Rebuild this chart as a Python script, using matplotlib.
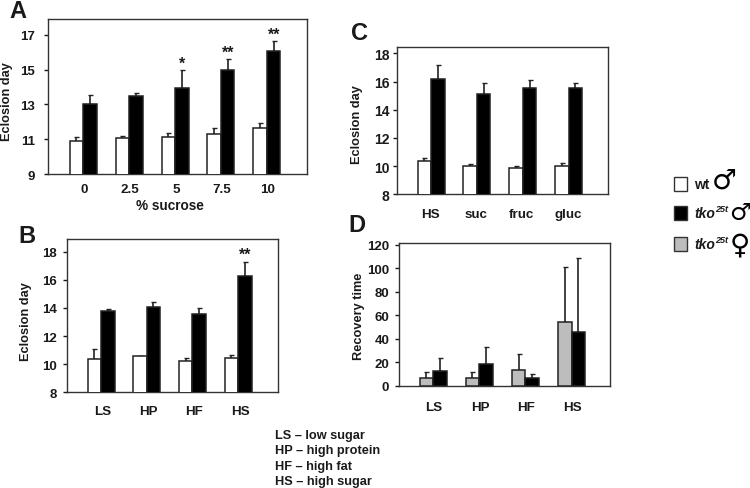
import matplotlib
matplotlib.use("Agg")
import matplotlib.pyplot as plt
from matplotlib.patches import Rectangle
import numpy as np

plt.rcParams['font.family'] = ['Liberation Sans', 'DejaVu Sans']
plt.rcParams['font.weight'] = 'bold'

W, H = 750, 489
DARK = '#1a1a1a'

a_labels = ['0', '2.5', '5', '7.5', '10']
a_wt = [10.9, 11.05, 11.1, 11.3, 11.65]
a_wt_top = [11.15, 11.2, 11.35, 11.65, 11.95]
a_tko = [13.0, 13.5, 13.95, 14.95, 16.05]
a_tko_top = [13.55, 13.65, 14.95, 15.6, 16.65]
a_stars = ['', '', '*', '**', '**']

b_labels = ['LS', 'HP', 'HF', 'HS']
b_wt = [10.35, 10.55, 10.2, 10.45]
b_wt_top = [11.1, 10.6, 10.45, 10.65]
b_tko = [13.75, 14.1, 13.55, 16.3]
b_tko_top = [13.9, 14.45, 14.0, 17.3]
b_stars = ['', '', '', '**']

c_labels = ['HS', 'suc', 'fruc', 'gluc']
c_wt = [10.35, 10.0, 9.9, 10.0]
c_wt_top = [10.55, 10.15, 10.0, 10.25]
c_tko = [16.2, 15.1, 15.55, 15.55]
c_tko_top = [17.2, 15.9, 16.1, 15.9]

d_labels = ['LS', 'HP', 'HF', 'HS']
d_fem = [6.5, 6.5, 14, 54.5]
d_fem_top = [12, 12, 27, 101]
d_tko = [13, 18.5, 6.5, 46]
d_tko_top = [24, 33, 10, 109]

notes = ['LS – low sugar', 'HP – high protein', 'HF – high fat', 'HS – high sugar']

fig = plt.figure(figsize=(7.5, 4.89), dpi=100)


def px(x, y, s, **kw):
    kw.setdefault('color', DARK)
    return fig.text(x / W, 1 - y / H, s, **kw)


def panel(box, ylim, yticks, first_center, spacing, labels, left, left_top, right, right_top,
          left_color, stars=None, label_y=0, ylabel='Eclosion day', ylabel_pos=(0, 0),
          letter='', letter_pos=(0, 0), xlabel_dx=0, pad=4, tick_size=9.5):
    l, t, r, b = box
    ax = fig.add_axes([l / W, 1 - b / H, (r - l) / W, (b - t) / H])
    x = np.arange(len(labels))
    ax.set_xlim((l - first_center) / spacing, (r - first_center) / spacing)
    ax.set_ylim(*ylim)
    w = 13.5 / spacing
    for xs, vals, tops, col in [(x - w / 2, left, left_top, left_color),
                                (x + w / 2, right, right_top, 'black')]:
        vals = np.array(vals, float)
        tops = np.array(tops, float)
        ax.bar(xs, vals, width=w, color=col, edgecolor='#222222', linewidth=1.1, zorder=3)
        ax.errorbar(xs, vals, yerr=[np.zeros_like(vals), tops - vals], fmt='none',
                    ecolor='#222222', elinewidth=1.2, capsize=1.8, capthick=1.0, zorder=2)
    ax.set_yticks(yticks)
    ax.tick_params(axis='y', length=3, width=1, pad=pad, labelsize=tick_size,
                   color=DARK, labelcolor=DARK)
    ax.set_xticks(x)
    ax.set_xticklabels([])
    ax.tick_params(axis='x', length=0)
    for s in ax.spines.values():
        s.set_linewidth(1.0)
        s.set_color('#333333')
    for i, lab in enumerate(labels):
        px(first_center + spacing * i + xlabel_dx, label_y, lab, ha='center', va='center',
           fontsize=9.6)
    px(ylabel_pos[0], ylabel_pos[1], ylabel, rotation=90, ha='center', va='center', fontsize=9.2)
    px(letter_pos[0], letter_pos[1], letter, ha='center', va='center', fontsize=17)
    if stars:
        for i, st in enumerate(stars):
            if st:
                ax.annotate(st, (x[i] + w / 2, right_top[i]), xytext=(0, -0.5),
                            textcoords='offset points', ha='center', va='bottom',
                            fontsize=11.5, color=DARK)
    return ax


panel((48, 20, 307, 175), (9, 17.9), [9, 11, 13, 15, 17], 83, 46, a_labels, a_wt, a_wt_top,
      a_tko, a_tko_top, 'white', stars=a_stars, label_y=190, ylabel_pos=(7.5, 102),
      letter='A', letter_pos=(18, 11), xlabel_dx=1, pad=6.3)
px(170, 206, '% sucrose', ha='center', va='center', fontsize=9.8)

panel((66.7, 240, 277.7, 393.3), (8, 18.9), [8, 10, 12, 14, 16, 18], 101, 45.7, b_labels, b_wt,
      b_wt_top, b_tko, b_tko_top, 'white', stars=b_stars, label_y=412, ylabel_pos=(26, 322),
      letter='B', letter_pos=(27, 237), xlabel_dx=2, pad=4)

panel((396.7, 48, 607.7, 195.3), (8, 18.45), [8, 10, 12, 14, 16, 18], 431, 45.9, c_labels, c_wt,
      c_wt_top, c_tko, c_tko_top, 'white', label_y=215, ylabel_pos=(357, 125),
      letter='C', letter_pos=(360, 34), xlabel_dx=-1, pad=2.2, tick_size=10)

panel((399, 244, 610, 387), (0, 121.5), [0, 20, 40, 60, 80, 100, 120], 433, 46.2, d_labels, d_fem,
      d_fem_top, d_tko, d_tko_top, '#bdbdbd', label_y=408, ylabel='Recovery time',
      ylabel_pos=(359, 316), letter='D', letter_pos=(357, 226), xlabel_dx=1, pad=4)

for i, line in enumerate(notes):
    px(275, 436 + 15.3 * i, line, ha='left', va='center', fontsize=9.2)

legend_rows = [('white', 'wt', False, '♂', 724, 181, 185, 20),
               ('black', 'tko', True, '♂', 740, 213, 214, 17.5),
               ('#bdbdbd', 'tko', True, '♀', 740, 245, 245, 20)]
for col, txt, sup, sym, sx, sy, yc, sym_size in legend_rows:
    fig.add_artist(Rectangle((673.5 / W, 1 - (yc + 7) / H), 13.5 / W, 14 / H, facecolor=col,
                             edgecolor='#333333', linewidth=1, transform=fig.transFigure))
    px(694, yc, txt, ha='left', va='center', fontsize=10, style='italic' if sup else 'normal')
    if sup:
        px(715, yc - 4, '25t', ha='left', va='center', fontsize=6.5, style='italic')
    px(sx, sy, sym, ha='center', va='center', fontsize=sym_size, family='DejaVu Sans', color='black')

fig.savefig('out.png', dpi=100)
